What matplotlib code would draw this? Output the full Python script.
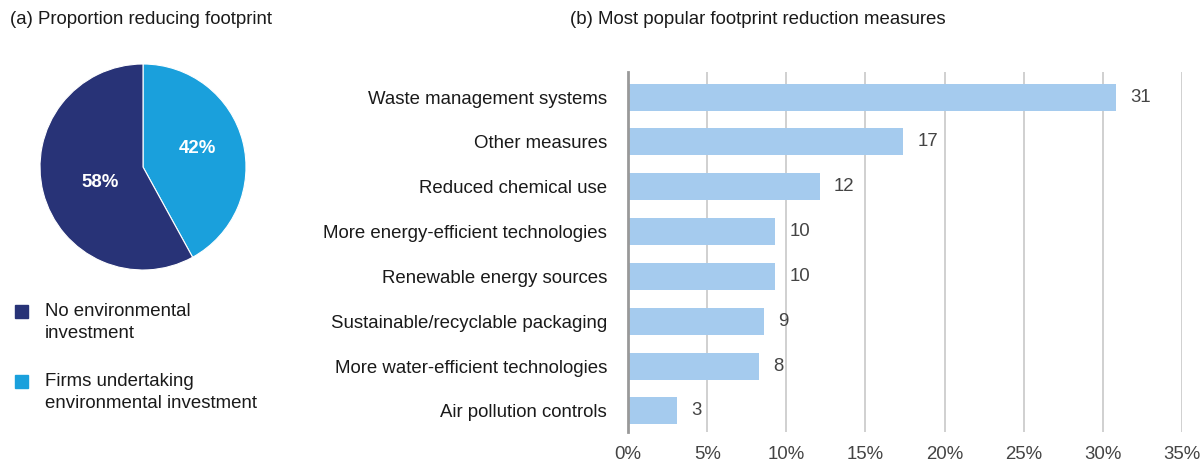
import matplotlib
matplotlib.use("Agg")
import matplotlib.pyplot as plt
from matplotlib.patches import Rectangle

# Panel (a) data
pie_labels = ["Firms undertaking\nenvironmental investment", "No environmental\ninvestment"]
pie_values = [42, 58]
pie_colors = ["#1aa0dc", "#283377"]

# Panel (b) data (bar lengths, labels as printed)
measures = [
    "Waste management systems",
    "Other measures",
    "Reduced chemical use",
    "More energy-efficient technologies",
    "Renewable energy sources",
    "Sustainable/recyclable packaging",
    "More water-efficient technologies",
    "Air pollution controls",
]
shares = [30.8, 17.4, 12.1, 9.3, 9.3, 8.6, 8.3, 3.1]
share_labels = ["31", "17", "12", "10", "10", "9", "8", "3"]
x_ticks = [0, 5, 10, 15, 20, 25, 30, 35]

plt.rcParams["font.family"] = ["Liberation Sans", "DejaVu Sans"]
TXT = "#1a1a1a"
FS = 13.4
W, H = 1201, 462

fig = plt.figure(figsize=(12.01, 4.62), dpi=100)

fig.text(10 / W, 1 - 20 / H, "(a) Proportion reducing footprint",
         fontsize=FS, color=TXT, va="center", ha="left")
fig.text(570 / W, 1 - 20 / H, "(b) Most popular footprint reduction measures",
         fontsize=FS, color=TXT, va="center", ha="left")

# ---- pie ----
ax_pie = fig.add_axes([40 / W, 1 - 270 / H, 206 / W, 206 / H])
wedges, _, autotexts = ax_pie.pie(
    pie_values, colors=pie_colors, startangle=90, counterclock=False,
    autopct="%d%%", pctdistance=0.5,
    wedgeprops=dict(edgecolor="white", linewidth=0.8),
)
# nudge percentage labels to where the reference has them
for t, pos in zip(autotexts, [(0.53, 0.18), (-0.42, -0.15)]):
    t.set_position(pos)
    t.set_color("white")
    t.set_fontweight("bold")
    t.set_fontsize(FS)
ax_pie.set_xlim(-1.0, 1.0)
ax_pie.set_ylim(-1.0, 1.0)
ax_pie.set_aspect("equal")

# legend drawn by hand: square next to first line of each label
legend_items = [(pie_colors[1], pie_labels[1], 305), (pie_colors[0], pie_labels[0], 375)]
for col, lab, ytop in legend_items:
    fig.patches.append(Rectangle((15 / W, 1 - (ytop + 13) / H), 13 / W, 13 / H,
                                 transform=fig.transFigure, color=col))
    fig.text(45 / W, 1 - (ytop - 2) / H, lab, fontsize=FS, color=TXT,
             va="top", ha="left", linespacing=1.4)

# ---- bars ----
ax = fig.add_axes([628 / W, 1 - 432 / H, 554 / W, 360 / H])
ypos = list(range(len(measures)))
ax.barh(ypos, shares, height=0.6, color="#a5cbee", zorder=2)
for y, v, lab in zip(ypos, shares, share_labels):
    ax.text(v + 0.9, y, lab, va="center", ha="left", fontsize=FS, color="#444444")

ax.set_yticks(ypos)
ax.set_yticklabels(measures, fontsize=FS, color=TXT)
ax.set_ylim(7.47, -0.56)
ax.set_xlim(0, 35)
ax.set_xticks(x_ticks)
ax.set_xticklabels([f"{t}%" for t in x_ticks], fontsize=FS, color="#444444")
ax.tick_params(axis="y", length=0, pad=15)
ax.tick_params(axis="x", length=0, pad=10)
ax.grid(axis="x", color="#c8c8c8", linewidth=1.2, zorder=0)
for s in ["top", "right", "bottom"]:
    ax.spines[s].set_visible(False)
ax.spines["left"].set_color("#999999")
ax.spines["left"].set_linewidth(2)
ax.spines["left"].set_zorder(3)

fig.savefig("out.png", dpi=100)
